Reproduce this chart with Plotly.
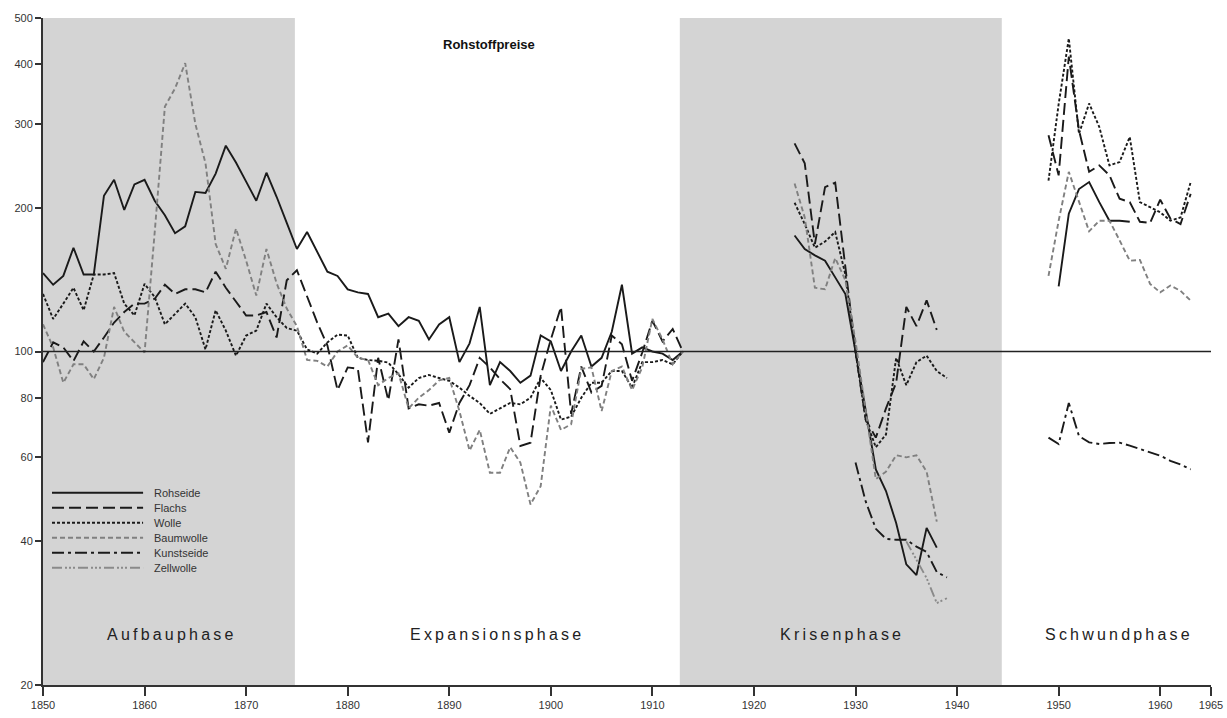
import plotly.graph_objects as go

# ---------------- data ----------------
years_a = list(range(1850, 1914))   # 1850-1913
years_k = list(range(1924, 1940))   # 1924-1939
years_s = list(range(1949, 1964))   # 1949-1963

rohseide_a = [146, 138, 144, 165, 145, 145, 212, 229, 198, 224,
              229, 207, 193, 177, 183, 216, 215, 236, 270, 249,
              227, 207, 237, 211, 186, 164, 178, 162, 147, 144,
              135, 133, 132, 118, 120, 113, 118, 116, 106, 114,
              118, 95, 104, 124, 85, 95, 91, 86, 89, 108,
              105, 91, 100, 108, 93, 97, 110, 138, 99, 102,
              100, 99, 96, 100]
flachs_a = [95, 104.5, 102, 95.5, 105, 100, 107, 115, 121, 126,
            126, 129, 138, 132, 135, 135, 133, 147, 136, 127,
            119, 119, 121, 107, 141, 148, 130, 115, 103, 83,
            92.6, 92, 64.5, 97, 79, 106, 76, 77.5, 77, 78,
            67.6, 78, 85, 97, 92.6, 87.5, 83.4, 63.4, 64.4, 89,
            106, 124, 74, 93, 82, 84.7, 108, 103.6, 86.8, 99.5,
            116, 105, 111.5, 100]
wolle_a = [132, 117, 126, 136, 122, 145, 145, 146, 126, 119,
           138.6, 130, 114, 120, 126, 118, 101, 122, 110.6, 98,
           108, 110.6, 126, 118, 112, 110.6, 101, 99, 104.5, 108.5,
           108, 97, 96, 95.6, 94.8, 89.6, 84, 88, 89.3, 88,
           86.8, 84, 80.7, 78, 74, 76, 78, 77.5, 80, 88,
           83, 72, 73, 80, 86, 86, 91, 91, 84, 95,
           95, 96, 94, 100]
baumwolle_a = [114, 102, 86, 94, 94, 87.5, 97, 124, 110, 104.5,
               99.5, 178, 326, 356, 402, 300, 248, 168, 149, 181,
               155, 131, 164, 139, 123, 113, 96, 95.6, 93, 100,
               103, 97, 96, 85, 88, 90, 76, 80, 83, 87,
               88, 75, 62, 68.5, 55.7, 55.7, 63, 58.5, 47.8, 52.2,
               77, 68.5, 70.4, 92, 92.6, 75, 91, 93, 83, 92.6,
               117, 106, 94, 100]

rohseide_k = [175, 164, 159, 155, 143, 132, 100, 76, 56.6, 51,
              43.7, 35.8, 34, 42.7, 38.8, None]
flachs_k = [273, 248, 168, 221, 226, 150, 100, 72, 66, 76,
            86, 124, 113, 128, 111, None]
wolle_k = [205, 185, 165, 170, 178, 145, 100, 72, 63, 67,
           97, 85, 95, 98, 91, 88]
baumwolle_k = [225, 191, 136, 135, 157, 141, 105, 75, 54, 56,
               60.6, 60, 60.6, 56, 44, None]
kunstseide_k = [None, None, None, None, None, None, 58.5, 48.5, 42.5, 40.5,
                40.3, 40.3, 39, 38, 34.5, 33.6]
zellwolle_k = [None, None, None, None, None, None, None, None, None, None,
               None, 40, 36.5, 33.5, 29.7, 30.4]

rohseide_s = [None, 137, 194.5, 219, 226.5, 205.6, 188, 188, 187,
              None, None, None, None, None, None]
flachs_s = [284, 234, 415, 291, 238, 245.5, 234, 209, 205.6, 187,
            186, 208, 190, 185, 214]
wolle_s = [228, 330, 453, 286, 331, 295.5, 245.5, 249.5, 281.6, 205.6,
           200.7, 195.8, 188, 191, 226.5]
baumwolle_s = [144, 188, 238, 207, 178.6, 188, 188, 171, 155, 155.6,
               138.6, 133, 137.5, 134, 127.8]
kunstseide_s = [66, 64, 78, 66.5, 64.5, 64, 64.3, 64.4, 63.5, 62.5,
                61.5, 60.5, 59, 58, 56.6]
zellwolle_s = [None] * 15

series_names = ["Rohseide", "Flachs", "Wolle", "Baumwolle", "Kunstseide", "Zellwolle"]

phase_names = ["Aufbauphase", "Expansionsphase", "Krisenphase", "Schwundphase"]
phase_bounds = [1850, 1874.8, 1912.7, 1944.4, 1965]
phase_shaded = [True, False, True, False]
phase_label_years = [1862.5, 1894.6, 1928.5, 1955.8]

x_ticks = [1850, 1860, 1870, 1880, 1890, 1900, 1910, 1920, 1930, 1940, 1950, 1960, 1965]
y_ticks = [20, 40, 60, 80, 100, 200, 300, 400, 500]

# ---------------- styling ----------------
FONT = "Arial, Liberation Sans, Helvetica, sans-serif"
styles = {
    "Rohseide":   dict(color="#1a1a1a", dash="solid"),
    "Flachs":     dict(color="#1a1a1a", dash="12px,5px"),
    "Wolle":      dict(color="#1a1a1a", dash="3px,2px"),
    "Baumwolle":  dict(color="#808080", dash="5px,3px"),
    "Kunstseide": dict(color="#1a1a1a", dash="12px,4px,3px,4px"),
    "Zellwolle":  dict(color="#8a8a8a", dash="10px,3px,2px,2px,2px,2px,2px,3px"),
}

data_map = {
    "Rohseide": (rohseide_a, rohseide_k, rohseide_s),
    "Flachs": (flachs_a, flachs_k, flachs_s),
    "Wolle": (wolle_a, wolle_k, wolle_s),
    "Baumwolle": (baumwolle_a, baumwolle_k, baumwolle_s),
    "Kunstseide": ([None] * len(years_a), kunstseide_k, kunstseide_s),
    "Zellwolle": ([None] * len(years_a), zellwolle_k, zellwolle_s),
}

# page is photographed slightly scaled; compensate so final pixels match
S = 1.0 / 0.9935
W, H = round(1227 * S), round(718 * S)
plot_left, plot_right, plot_top, plot_bottom = 43 * S, 1210 * S, 18 * S, 684 * S

fig = go.Figure()
for name in series_names:
    a, k, s = data_map[name]
    xs = years_a + [None] + years_k + [None] + years_s
    ys = list(a) + [None] + list(k) + [None] + list(s)
    st = styles[name]
    fig.add_trace(go.Scatter(
        x=xs, y=ys, mode="lines", name=name, connectgaps=False,
        showlegend=False,
        line=dict(color=st["color"], width=1.9, dash=st["dash"]),
    ))

shapes = []
annotations = []

for i, nm in enumerate(phase_names):
    if phase_shaded[i]:
        shapes.append(dict(type="rect", xref="x", yref="paper",
                           x0=phase_bounds[i], x1=phase_bounds[i + 1], y0=0, y1=1,
                           fillcolor="#d4d4d4", line=dict(width=0), layer="below"))

for i, nm in enumerate(phase_names):
    txt = "\u2009".join(list(nm))
    annotations.append(dict(x=phase_label_years[i], y=0.075, xref="x", yref="paper", text=txt,
                            showarrow=False, font=dict(family=FONT, size=16, color="#222222"),
                            xanchor="center", yanchor="middle"))

shapes.append(dict(type="line", xref="paper", yref="paper", x0=0, x1=1.0, y0=0.5, y1=0.5,
                   line=dict(color="#222222", width=1.6)))

annotations.append(dict(x=0.3815, y=0.961, xref="paper", yref="paper", text="<b>Rohstoffpreise</b>",
                        showarrow=False, font=dict(family=FONT, size=13, color="#111111"),
                        xanchor="center", yanchor="middle"))

pw = plot_right - plot_left
ph = plot_bottom - plot_top
leg_rows = [492, 507, 522, 537, 552, 567]
for name, row in zip(series_names, leg_rows):
    st = styles[name]
    yf = (plot_bottom - row * S) / ph
    shapes.append(dict(type="line", xref="paper", yref="paper",
                       x0=(52 * S - plot_left) / pw, x1=(143 * S - plot_left) / pw, y0=yf, y1=yf,
                       line=dict(color=st["color"], width=1.9, dash=st["dash"])))
    annotations.append(dict(x=(152 * S - plot_left) / pw, y=yf, xref="paper", yref="paper",
                            text=name, showarrow=False, xanchor="left", yanchor="middle",
                            font=dict(family=FONT, size=11, color="#333333")))

fig.update_layout(
    width=W, height=H,
    margin=dict(l=plot_left, r=W - plot_right, t=plot_top, b=H - plot_bottom),
    paper_bgcolor="white", plot_bgcolor="white",
    shapes=shapes, annotations=annotations, showlegend=False,
    font=dict(family=FONT, size=11, color="#333333"),
)
fig.update_xaxes(range=[1850, 1965], tickvals=x_ticks, ticktext=[str(t) for t in x_ticks],
                 showgrid=False, zeroline=False, showline=True, linecolor="#333333", linewidth=2,
                 ticks="outside", ticklen=9, tickwidth=1.5, tickcolor="#333333",
                 tickfont=dict(family=FONT, size=11, color="#333333"))
fig.update_yaxes(type="log", range=[1.30103, 2.69897], tickvals=y_ticks,
                 ticktext=[str(t) for t in y_ticks],
                 showgrid=False, zeroline=False, showline=True, linecolor="#333333", linewidth=2,
                 ticks="outside", ticklen=6, tickwidth=1.5, tickcolor="#333333",
                 tickfont=dict(family=FONT, size=11, color="#333333"))

fig.write_html("out.html")
